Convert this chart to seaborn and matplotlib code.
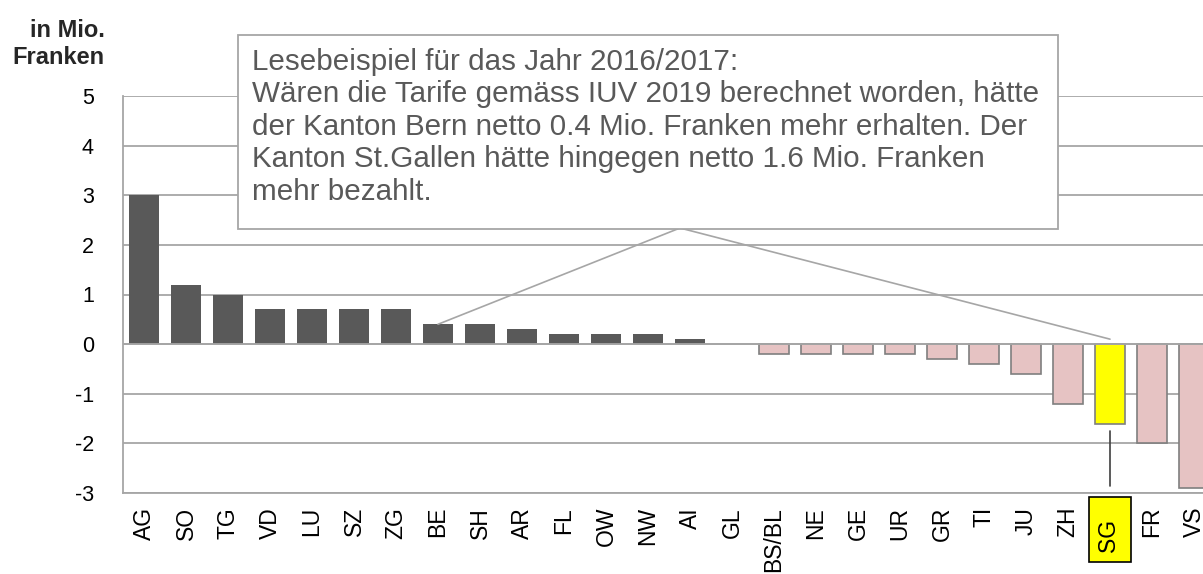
import numpy as np
import seaborn as sns
import matplotlib.pyplot as plt
from matplotlib.patches import Rectangle

cantons = ['AG', 'SO', 'TG', 'VD', 'LU', 'SZ', 'ZG', 'BE', 'SH', 'AR', 'FL', 'OW', 'NW',
           'AI', 'GL', 'BS/BL', 'NE', 'GE', 'UR', 'GR', 'TI', 'JU', 'ZH', 'SG', 'FR', 'VS']
values = [3.0, 1.2, 1.0, 0.7, 0.7, 0.7, 0.7, 0.4, 0.4, 0.3, 0.2, 0.2, 0.2,
          0.1, 0.0, -0.2, -0.2, -0.2, -0.2, -0.3, -0.4, -0.6, -1.2, -1.6, -2.0, -2.9]
highlight = 'SG'
example_a = 'BE'
note = ("Lesebeispiel für das Jahr 2016/2017:\n"
        "Wären die Tarife gemäss IUV 2019 berechnet worden, hätte\n"
        "der Kanton Bern netto 0.4 Mio. Franken mehr erhalten. Der\n"
        "Kanton St.Gallen hätte hingegen netto 1.6 Mio. Franken\n"
        "mehr bezahlt.")

sns.set_style('white')
plt.rcParams['font.family'] = ['Liberation Sans', 'DejaVu Sans']
plt.rcParams['axes.unicode_minus'] = False

pos_col = '#595959'
neg_col = '#E6C3C3'
hl_col = '#FFFF00'
grid_col = '#A6A6A6'

colors = {}
for c, v in zip(cantons, values):
    if c == highlight:
        colors[c] = hl_col
    elif v >= 0:
        colors[c] = pos_col
    else:
        colors[c] = neg_col

W, H = 1203, 574
fig = plt.figure(figsize=(W / 100, H / 100), dpi=100)
ax = fig.add_axes([123 / W, (H - 493) / H, 1092 / W, (493 - 96) / H])

sns.barplot(x=cantons, y=values, hue=cantons, palette=colors, legend=False,
            width=0.7, ax=ax, zorder=3, saturation=1)
for p, v in zip(ax.patches, values):
    if v < 0:
        p.set_edgecolor('#7F7F7F')
        p.set_linewidth(1.2)
    else:
        p.set_edgecolor(pos_col)
        p.set_linewidth(0)

ax.set_xlim(-0.5, len(cantons) - 0.5)
ax.set_ylim(-3, 5)
ax.set_yticks(range(-3, 6))
ax.yaxis.grid(True, color=grid_col, linewidth=1.3, zorder=0)
ax.axhline(0, color=grid_col, linewidth=1.3, zorder=4)
for s in ['top', 'right']:
    ax.spines[s].set_visible(False)
for s in ['left', 'bottom']:
    ax.spines[s].set_color(grid_col)
    ax.spines[s].set_linewidth(1.3)
ax.tick_params(axis='y', labelsize=15.5, length=0, pad=21, labelcolor='black')
ax.tick_params(axis='x', labelsize=16.5, length=0, pad=10, labelrotation=90, labelcolor='black')

# highlighted canton gets a yellow box round its label
ax.set_xticks(range(len(cantons)))
ax.set_xticklabels([(c + '  ') if c == highlight else c for c in cantons])
for lbl in ax.get_xticklabels():
    lbl.set_verticalalignment('top')
    if lbl.get_text().strip() == highlight:
        lbl.set_bbox(dict(facecolor=hl_col, edgecolor='black', linewidth=1.2, pad=7))

fig.text(105 / W, 1 - 19 / H, 'in Mio.\nFranken', ha='right', va='top',
         fontsize=17, fontweight='bold', linespacing=1.2)

# note box
fig.patches.append(Rectangle((238 / W, (H - 229) / H), 820 / W, 194 / H,
                             transform=fig.transFigure, facecolor='white',
                             edgecolor=grid_col, linewidth=1.3, zorder=5))
fig.text(252 / W, 1 - 48 / H, note, ha='left', va='top', fontsize=21.3,
         color='#595959', linespacing=1.2, zorder=6)

# connectors from the note to BE and SG
hi = cantons.index(highlight)
ea = cantons.index(example_a)
ax.annotate('', xy=(ea, values[ea]), xytext=(680, H - 228), textcoords='figure pixels',
            arrowprops=dict(arrowstyle='-', color='#A6A6A6', lw=1.2, shrinkA=0, shrinkB=0))
ax.annotate('', xy=(hi, 0.1), xytext=(680, H - 228), textcoords='figure pixels',
            arrowprops=dict(arrowstyle='-', color='#A6A6A6', lw=1.2, shrinkA=0, shrinkB=0))
ax.plot([hi, hi], [values[hi] - 0.15, -2.85], color='#404040', lw=1.2, zorder=5)

fig.savefig('out.png', dpi=100)
